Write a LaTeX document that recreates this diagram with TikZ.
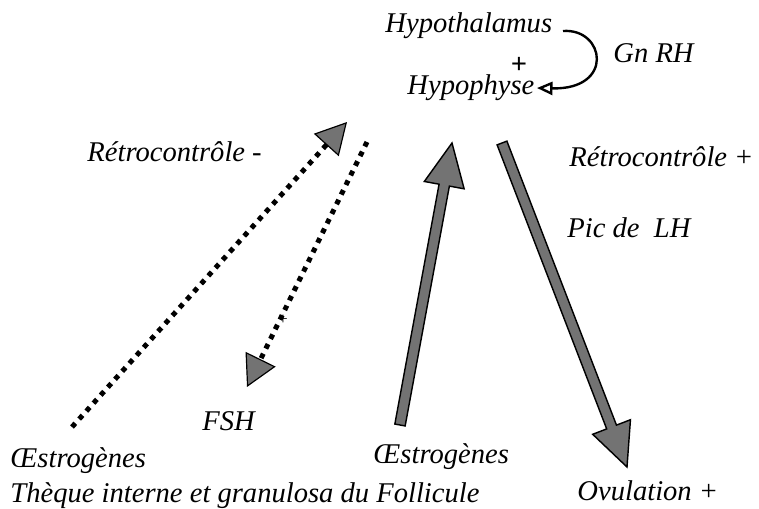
\documentclass[tikz,border=0pt]{standalone}
\usepackage{fontspec}
\setmainfont{Liberation Serif}
\usepackage{tikz}
\usetikzlibrary{arrows.meta,calc}

% grosse fleche grise : #1 nom, #2 depart, #3 pointe
\newcommand{\grosse}[3]{%
  \coordinate (#1b) at ($(#3)!18pt!(#2)$);
  \filldraw[hormone] ($(#2)!2.2pt!90:(#3)$) -- ($(#1b)!2.2pt!90:(#3)$) -- ($(#1b)!8.5pt!90:(#3)$) -- (#3)
     -- ($(#1b)!8.5pt!-90:(#3)$) -- ($(#1b)!2.2pt!-90:(#3)$) -- ($(#2)!2.2pt!-90:(#3)$) -- cycle;}

\begin{document}
\begin{tikzpicture}[x=0.42pt,y=-0.42pt,font=\fontsize{12}{14}\selectfont\itshape]
\tikzstyle{texte}=[inner sep=0pt,anchor=base west]
\tikzstyle{hormone}=[fill=black!55,draw=black,line width=0.6pt,line join=miter]
\tikzstyle{retro}=[line width=2.1pt,dash pattern=on 2.1pt off 2.4pt,
                   -{Triangle[length=13pt,width=14pt,line width=0.5pt,fill=black!55]}]
\useasboundingbox (0,0) rectangle (759,509);
\node[texte] (hypothalamus) at (385,33) {Hypothalamus};
\node[texte] (hypophyse) at (407,95) {Hypophyse};
\node[texte] (gnrh) at (613,63) {Gn RH};
\node[inner sep=0pt,font=\fontsize{12}{14}\selectfont\upshape\bfseries] (plus) at (519,65) {+};
\node[texte] (retromoins) at (87,162) {Rétrocontrôle -};
\node[texte] (retroplus) at (569,166) {Rétrocontrôle +};
\node[texte] (piclh) at (567,237) {Pic de\ \ LH};
\node[texte] (fsh) at (202,430) {FSH};
\node[texte] (oestro) at (10,467) {Œstrogènes};
\node[texte] (oestrob) at (373,463) {Œstrogènes};
\node[texte] (theque) at (10,502) {Thèque interne et granulosa du Follicule};
\node[texte] (ovulation) at (577,500) {Ovulation +};
\node[font=\scriptsize\upshape] (croix) at (283,320) {+};
% extremites des fleches
\coordinate (gn0) at (563,31);  \coordinate (gn1) at (537,88);
\coordinate (rm0) at (72,427);  \coordinate (rm1) at (347,122);
\coordinate (fs0) at (367,142); \coordinate (fs1) at (247,387);
\coordinate (oe0) at (400,425); \coordinate (oe1) at (452,143);
\coordinate (lh0) at (502,143); \coordinate (lh1) at (627,467);
\draw[line width=1pt,-{Triangle[open,length=6.5pt,width=5.5pt]}] (gn0) .. controls (605,28) and (615,90) .. (gn1);
\draw[retro] (rm0) -- (rm1);
\draw[retro] (fs0) -- (fs1);
\grosse{oe}{oe0}{oe1}
\grosse{lh}{lh0}{lh1}
\end{tikzpicture}
\end{document}
